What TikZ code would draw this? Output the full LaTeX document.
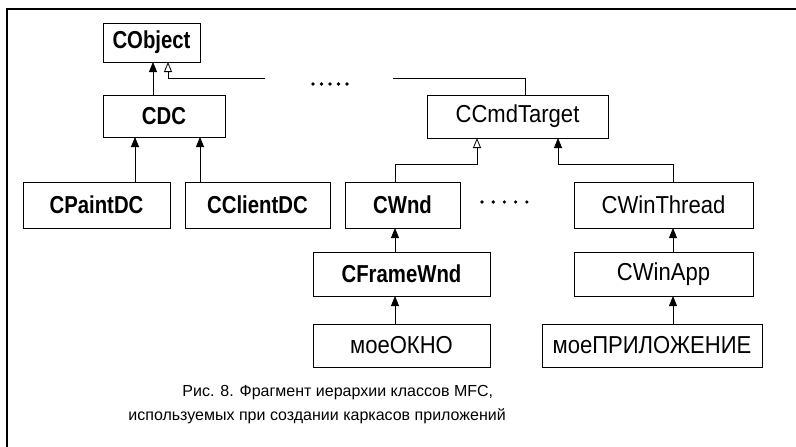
\documentclass[tikz,border=0pt]{standalone}
\usepackage{fontspec}
\setmainfont{Liberation Sans}[FakeStretch=0.83]
\newfontfamily\regfont{Liberation Sans}[FakeStretch=0.9]
\newfontfamily\capfont{Liberation Sans}
\usepackage{tikz}
\usetikzlibrary{arrows.meta}

\begin{document}
\begin{tikzpicture}[x=1pt, y=-1pt, line width=0.8pt,
    cls/.style={draw, inner sep=0pt, font=\bfseries\fontsize{24.5}{27}\selectfont},
    obj/.style={draw, inner sep=0pt, font=\regfont\fontsize{24.5}{27}\selectfont},
    inh/.style={-{Triangle[length=10pt, width=8pt]}},
    inho/.style={-{Triangle[open, fill=white, length=10pt, width=8pt]}}]
    \useasboundingbox (0,0) rectangle (796,447);
    \draw[line width=1.1pt] (796,9) -- (7,9) -- (7,447);

    \node[cls, minimum width=97pt, minimum height=39pt](CObject) at (151.5,42.5) {CObject};
    \node[cls, minimum width=122pt, minimum height=42pt](CDC) at (164,116) {CDC};
    \node[obj, minimum width=181pt, minimum height=43pt](CCmdTarget) at (517.5,116.5) {CCmdTarget};

    \node[cls, minimum width=147pt, minimum height=46pt](CPaintDC) at (96.5,205) {CPaintDC};
    \node[cls, minimum width=145pt, minimum height=46pt](CClientDC) at (257.5,205) {CClientDC};
    \node[cls, minimum width=115pt, minimum height=46pt](CWnd) at (402.5,205) {CWnd};
    \node[obj, minimum width=179pt, minimum height=46pt](CWinThread) at (663.5,205) {CWinThread};

    \node[cls, minimum width=177pt, minimum height=44pt](CFrameWnd) at (401.5,274) {CFrameWnd};
    \node[obj, minimum width=179pt, minimum height=44pt](CWinApp) at (663.5,274) {CWinApp};

    \node[obj, minimum width=177pt, minimum height=43pt](myWnd) at (401.5,345.5) {моеОКНО};
    \node[obj, minimum width=220pt, minimum height=43pt](myApp) at (652,345.5) {моеПРИЛОЖЕНИЕ};

    % arrow tips
    \coordinate(t1) at (153,62);
    \coordinate(t2) at (168,62);
    \coordinate(t3) at (135,137);
    \coordinate(t4) at (200,137);
    \coordinate(t5) at (477,138);
    \coordinate(t6) at (558,138);
    \coordinate(t7) at (395,228);
    \coordinate(t8) at (395,296);
    \coordinate(t9) at (673,228);
    \coordinate(t10) at (673,296);
    \coordinate(k) at (525,78);
    \coordinate(g1) at (265,78);
    \coordinate(g2) at (393,78);

    \draw[inh] (CDC.north -| t1) -- (t1);
    \draw (CCmdTarget.north -| k) -- (k) -- (g2);
    \draw[inho] (g1) -| (t2);
    \draw[inh] (CPaintDC.north -| t3) -- (t3);
    \draw[inh] (CClientDC.north -| t4) -- (t4);
    \draw[inho] (CWnd.north -| t7) -- ++(0,-17) -| (t5);
    \draw[inh] (CWinThread.north -| t9) -- ++(0,-17) -| (t6);
    \draw[inh] (CFrameWnd.north -| t7) -- (t7);
    \draw[inh] (myWnd.north -| t8) -- (t8);
    \draw[inh] (CWinApp.north -| t9) -- (t9);
    \draw[inh] (myApp.north -| t10) -- (t10);

    \foreach \i in {0,...,4} {
        \fill (313+8.5*\i,84) circle (1.8pt);
        \fill (482+11.2*\i,202) circle (1.8pt);
    }

    \node[anchor=west, inner sep=0pt, font=\capfont\fontsize{16}{19}\selectfont](cap1) at (182,393)
        {Рис. 8. Фрагмент иерархии классов MFC,};
    \node[anchor=west, inner sep=0pt, font=\capfont\fontsize{16}{19}\selectfont](cap2) at (128,416)
        {используемых при создании каркасов приложений};
\end{tikzpicture}
\end{document}
